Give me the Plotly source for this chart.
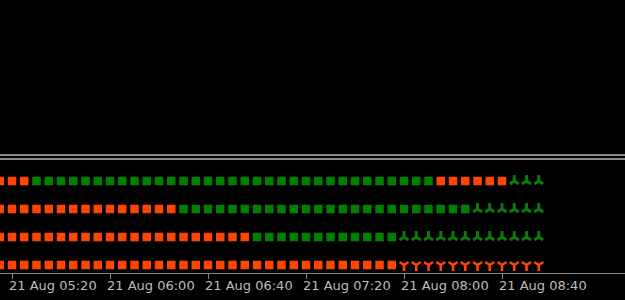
import plotly.graph_objects as go

# Bar times (M5 bars), 21 Aug
times = ["05:15", "05:20", "05:25", "05:30", "05:35", "05:40", "05:45", "05:50", "05:55",
         "06:00", "06:05", "06:10", "06:15", "06:20", "06:25", "06:30", "06:35", "06:40",
         "06:45", "06:50", "06:55", "07:00", "07:05", "07:10", "07:15", "07:20", "07:25",
         "07:30", "07:35", "07:40", "07:45", "07:50", "07:55", "08:00", "08:05", "08:10",
         "08:15", "08:20", "08:25", "08:30", "08:35", "08:40", "08:45", "08:50", "08:55"]
day = "2023-08-21"

# Row states: r = bearish square, g = bullish square, u = up arrow, d = down arrow
row1 = list("rrr" "ggggggggggggggggggggggggggggggggg" "rrrrrr" "uuu")
row2 = list("rrrrrrrrrrrrrrr" "gggggggggggggggggggggggg" "uuuuuu")
row3 = list("rrrrrrrrrrrrrrrrrrrrr" "gggggggggggg" "uuuuuuuuuuuu")
row4 = list("rrrrrrrrrrrrrrrrrrrrrrrrrrrrrrrrr" "dddddddddddd")
rows = [row1, row2, row3, row4]
row_levels = [4, 3, 2, 1]

tick_times = ["05:20", "06:00", "06:40", "07:20", "08:00", "08:40"]

styles = {
    "r": dict(symbol="square", size=8.5, color="#FF4500", line=dict(width=0)),
    "g": dict(symbol="square", size=8.5, color="#008000", line=dict(width=0)),
    "u": dict(symbol="y-up", size=7.5, color="#0a7a0a", line=dict(width=3, color="#0a7a0a")),
    "d": dict(symbol="y-down", size=7.5, color="#FF4500", line=dict(width=2.6, color="#FF4500")),
}

fig = go.Figure()
for code, mk in styles.items():
    xs, ys = [], []
    for row, lvl in zip(rows, row_levels):
        for t, c in zip(times, row):
            if c == code:
                xs.append(f"{day} {t}")
                ys.append(lvl)
    fig.add_trace(go.Scatter(x=xs, y=ys, mode="markers", marker=mk,
                             showlegend=False, hoverinfo="skip"))

fig.update_layout(
    width=625, height=300,
    margin=dict(l=0, r=0, t=160, b=27),
    paper_bgcolor="#000000", plot_bgcolor="#000000",
    font=dict(family="DejaVu Sans", size=13, color="#bdbdbd"),
    xaxis=dict(
        type="date",
        range=[f"{day} 05:15:06", f"{day} 09:30:12"],
        tickvals=[f"{day} {t}" for t in tick_times],
        tickformat="%d %b %H:%M",
        ticks="outside", ticklen=5, tickcolor="#8a8a8a", tickwidth=1,
        ticklabelposition="outside right",
        ticklabelshift=-4,
        showline=True, linecolor="#8a8a8a", linewidth=1,
        showgrid=False, zeroline=False,
    ),
    yaxis=dict(range=[0.714, 4.75], visible=False, showgrid=False, zeroline=False),
    shapes=[
        dict(type="line", xref="paper", yref="paper", x0=0, x1=1,
             y0=118 / 113, y1=118 / 113, line=dict(color="#8a8a8a", width=2)),
        dict(type="line", xref="paper", yref="paper", x0=0, x1=1,
             y0=114 / 113, y1=114 / 113, line=dict(color="#8a8a8a", width=2)),
    ],
)

fig.write_html("out.html")
